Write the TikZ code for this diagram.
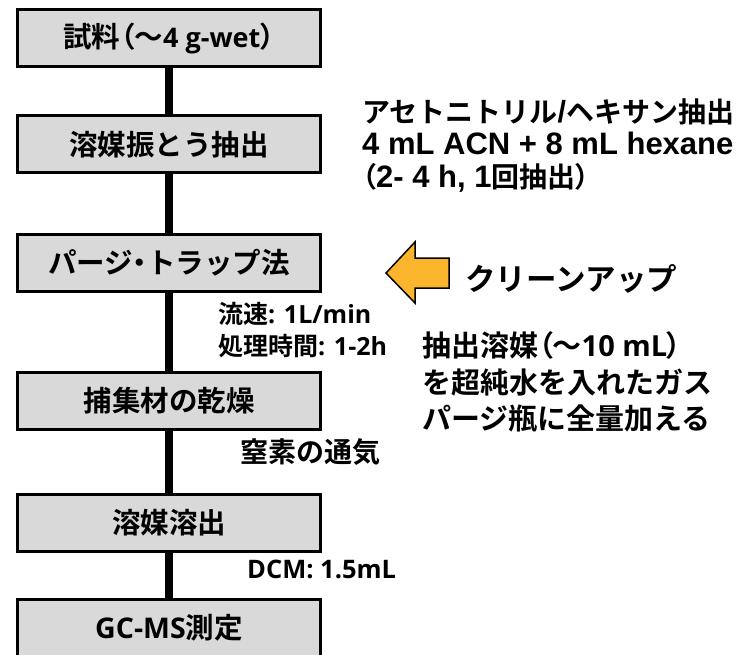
\documentclass[tikz,border=0pt]{standalone}
\usepackage{fontspec}
\newfontfamily\jpfont{Noto Sans CJK JP}[UprightFont={* Bold},BoldFont={* Bold}]
\newfontfamily\jppfont{Noto Sans CJK JP}[UprightFont={* Bold},BoldFont={* Bold},RawFeature=+palt]
\newfontfamily\calfont{Open Sans}[UprightFont={* Bold},BoldFont={* Bold}]
\newfontfamily\arifont{Liberation Sans}[UprightFont={* Bold},BoldFont={* Bold}]
\newcommand\lp{{\jppfont （}}
\newcommand\rp{{\jppfont ）}}
\definecolor{boxgray}{HTML}{D9D9D9}
\definecolor{arroworange}{HTML}{FBB52D}
\begin{document}
\begin{tikzpicture}[x=1pt,y=-1pt,
  stepbox/.style={draw=black,line width=3pt,fill=boxgray,minimum width=303pt,minimum height=57pt,inner sep=0pt,
    font=\fontsize{28.5}{30}\selectfont\jpfont},
  link/.style={line width=8pt,black},
  txt/.style={inner sep=0pt,anchor=west,align=left},
  small/.style={txt,font=\fontsize{25}{30}\selectfont\jpfont}]
\useasboundingbox[fill=white] (0,0) rectangle (744,655);

\node[stepbox] (b1) at (169,38) {試料\lp〜{\calfont\fontsize{27}{30}\selectfont 4 g-wet}\rp};
\node[stepbox] (b2) at (169,144.5) {溶媒振とう抽出};
\node[stepbox] (b3) at (169,262.5) {パージ{\jppfont ・}トラップ法};
\node[stepbox] (b4) at (169,400.5) {捕集材の乾燥};
\node[stepbox] (b5) at (169,523) {溶媒溶出};
\node[stepbox] (b6) at (169,628) {{\calfont\fontsize{28.5}{30}\selectfont GC-MS}測定};

\draw[link] (b1.south) -- (b2.north);
\draw[link] (b2.south) -- (b3.north);
\draw[link] (b3.south) -- (b4.north);
\draw[link] (b4.south) -- (b5.north);
\draw[link] (b5.south) -- (b6.north);

% labels beside the flow
\node[small] (l1) at (218,314) {流速{\calfont\fontsize{25}{30}\selectfont : 1L/min}};
\node[small] (l2) at (218,346) {処理時間{\calfont\fontsize{25}{30}\selectfont : 1-2h}};
\node[txt,font=\fontsize{28}{30}\selectfont\jpfont] (l3) at (240,452) {窒素の通気};
\node[txt,font=\fontsize{25.5}{30}\selectfont\calfont] (l4) at (247,569) {DCM: 1.5mL};

% extraction note
\node[txt,font=\fontsize{28}{32.5}\selectfont\jpfont] (n1) at (362,145)
  {アセトニトリル{\arifont\fontsize{30.5}{32.5}\selectfont /}ヘキサン抽出\\
   {\arifont\fontsize{31}{32.5}\selectfont 4 mL ACN + 8 mL hexane}\\
   \lp{\arifont\fontsize{31}{32.5}\selectfont 2- 4 h, 1}回抽出\rp};

% clean-up arrow
\draw[fill=arroworange,draw=black,line width=1.5pt,line join=miter]
  (386,273) -- (415,242) -- (415,258) -- (449,258) -- (449,288) -- (415,288) -- (415,303) -- cycle;
\node[txt,font=\fontsize{30.5}{34}\selectfont\jpfont] (c1) at (465,279) {クリーンアップ};

\node[txt,font=\fontsize{29}{36.5}\selectfont\jpfont] (c2) at (422,382)
  {抽出溶媒\lp〜{\calfont\fontsize{29}{36.5}\selectfont 10 mL}\rp\\
   を超純水を入れたガス\\
   パージ瓶に全量加える};
\end{tikzpicture}
\end{document}
